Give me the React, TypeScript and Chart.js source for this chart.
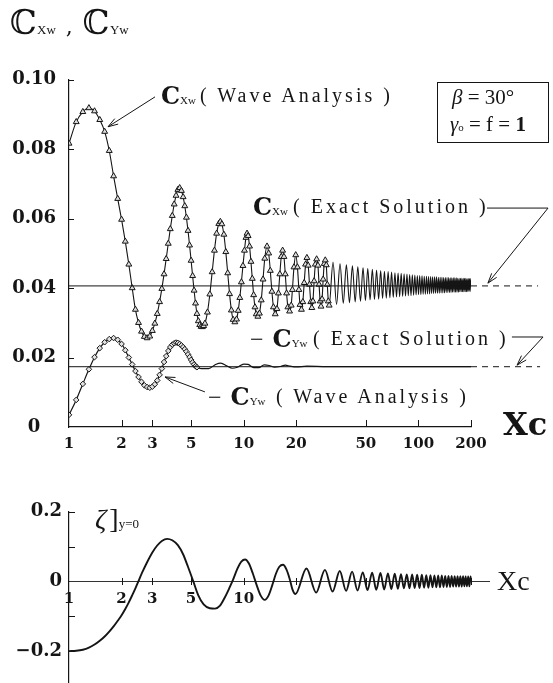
import React, { useEffect, useRef } from "react";
import { Chart, registerables } from "chart.js";
Chart.register(...registerables);

// ---------------- Top chart data ----------------
const topXTicks = [1, 2, 3, 5, 10, 20, 50, 100, 200];
const topYTicks = [0, 0.02, 0.04, 0.06, 0.08, 0.1];

// C_Xw (wave analysis): x and value pairs
const cxWaveX = [
  1.0, 1.1, 1.2, 1.3, 1.4, 1.5, 1.6, 1.7, 1.8, 1.9, 2.0, 2.1, 2.2, 2.3, 2.4, 2.5, 2.6, 2.7, 2.8, 2.9,
  3.0, 3.1, 3.2, 3.3, 3.4, 3.5, 3.6, 3.7, 3.8, 3.9, 4.0, 4.1, 4.2, 4.3, 4.4, 4.5, 4.6, 4.7, 4.8, 4.9,
  5.0, 5.1, 5.2, 5.3, 5.4, 5.5, 5.6, 5.7, 5.8, 5.9, 6.0, 6.2, 6.4, 6.6, 6.8, 7.0, 7.2, 7.35, 7.5, 7.7,
  7.9, 8.1, 8.3, 8.5, 8.7, 8.9, 9.1, 9.3, 9.5, 9.7, 9.9, 10.1, 10.3, 10.45, 10.6, 10.8, 11.0, 11.2, 11.4, 11.6,
  11.8, 12.05, 12.3, 12.6, 12.9, 13.2, 13.6, 13.9, 14.2, 14.5, 14.8, 15.15, 15.5, 15.8, 16.1, 16.4, 16.7, 17.0, 17.3, 17.6,
  17.9, 18.3, 18.7, 19.0, 19.4, 19.85, 20.3, 20.7, 21.0, 21.4, 21.8, 22.2, 22.6, 23.0, 23.4, 23.8, 24.2, 24.55, 24.9, 25.3,
  25.7, 26.15, 26.6, 27.0, 27.4, 27.7, 28.1, 28.5, 28.9, 29.3, 29.7, 30.1, 30.5, 30.85,
  32.45, 34.0, 35.6, 37.15, 38.7, 40.3, 41.9, 43.45, 45.0, 46.6, 48.2, 49.75, 51.3, 52.9, 54.5, 56.05, 57.6, 59.2, 60.8, 62.35,
  63.9, 65.5, 67.1, 68.65, 70.2, 71.8, 73.4, 74.95, 76.5, 78.1, 79.7, 81.25, 82.8, 84.4, 86.0, 87.55, 89.1, 90.7, 92.3, 93.85,
  95.4, 97.0, 98.6, 100.15, 101.7, 103.3, 104.9, 106.45, 108.0, 109.6, 111.2, 112.75, 114.3, 115.9, 117.5, 119.05, 120.6, 122.2, 123.8, 125.35,
  126.9, 128.5, 130.1, 131.65, 133.2, 134.8, 136.4, 137.95, 139.5, 141.1, 142.7, 144.25, 145.8, 147.4, 149.0, 150.55, 152.1, 153.7, 155.3, 156.85,
  158.4, 160.0, 161.6, 163.15, 164.7, 166.3, 167.9, 169.45, 171.0, 172.6, 174.2, 175.75, 177.3, 178.9, 180.5, 182.05, 183.6, 185.2, 186.8, 188.35,
  189.9, 191.5, 193.1, 194.65, 196.2, 197.8, 199.4, 200.0,
];
const cxWaveY = [
  0.0816, 0.0878, 0.0907, 0.0918, 0.0909, 0.0884, 0.085, 0.0795, 0.0722, 0.0657, 0.0597, 0.0534, 0.0468, 0.04, 0.0338, 0.03, 0.0275, 0.026, 0.0256, 0.0261,
  0.0277, 0.0298, 0.0326, 0.036, 0.0398, 0.044, 0.0484, 0.0528, 0.057, 0.0608, 0.0641, 0.0666, 0.0683, 0.0688, 0.068, 0.0662, 0.0636, 0.0603, 0.0565, 0.0523,
  0.0479, 0.0435, 0.0393, 0.0356, 0.0326, 0.0305, 0.0294, 0.0289, 0.0288, 0.0291, 0.0298, 0.033, 0.0382, 0.0446, 0.0508, 0.0557, 0.0585, 0.0591, 0.0584, 0.0554,
  0.0504, 0.0443, 0.0383, 0.0336, 0.0309, 0.0302, 0.031, 0.0335, 0.0372, 0.0417, 0.0464, 0.0508, 0.0545, 0.0557, 0.055, 0.052, 0.0476, 0.0427, 0.038, 0.0345,
  0.0325, 0.0318, 0.0327, 0.0365, 0.0425, 0.0485, 0.052, 0.05, 0.045, 0.039, 0.0345, 0.0325, 0.034, 0.0385, 0.044, 0.049, 0.0508, 0.049, 0.044, 0.0385,
  0.0345, 0.0333, 0.035, 0.0395, 0.046, 0.0495, 0.046, 0.0395, 0.0352, 0.0338, 0.036, 0.0415, 0.0468, 0.0487, 0.0465, 0.041, 0.036, 0.0343, 0.0362, 0.042,
  0.0468, 0.0483, 0.0465, 0.041, 0.0362, 0.0347, 0.0368, 0.0425, 0.047, 0.048, 0.0466, 0.041, 0.0362, 0.035,
  0.0474, 0.0353, 0.047, 0.0356, 0.0467, 0.0358, 0.0464, 0.036, 0.0461, 0.0362, 0.0458, 0.0364, 0.0456, 0.0366, 0.0454, 0.0367, 0.0452, 0.0368, 0.045, 0.037,
  0.0448, 0.0371, 0.0447, 0.0372, 0.0446, 0.0373, 0.0444, 0.0374, 0.0443, 0.0375, 0.0442, 0.0376, 0.0441, 0.0377, 0.044, 0.0378, 0.0439, 0.0378, 0.0438, 0.0379,
  0.0437, 0.038, 0.0436, 0.0381, 0.0436, 0.0381, 0.0435, 0.0382, 0.0434, 0.0382, 0.0434, 0.0383, 0.0433, 0.0383, 0.0433, 0.0384, 0.0432, 0.0384, 0.0432, 0.0385,
  0.0432, 0.0385, 0.0431, 0.0385, 0.0431, 0.0386, 0.0431, 0.0386, 0.043, 0.0386, 0.043, 0.0387, 0.043, 0.0387, 0.043, 0.0387, 0.0429, 0.0387, 0.0429, 0.0388,
  0.0429, 0.0388, 0.0429, 0.0388, 0.0429, 0.0388, 0.0428, 0.0388, 0.0428, 0.0389, 0.0428, 0.0389, 0.0428, 0.0389, 0.0428, 0.0389, 0.0428, 0.0389, 0.0428, 0.0389,
  0.0427, 0.039, 0.0427, 0.039, 0.0427, 0.039, 0.0427, 0.042,
];

// -C_Yw (wave analysis)
const cyWaveX = [
  1.0, 1.1, 1.2, 1.3, 1.4, 1.5, 1.6, 1.7, 1.8, 1.9, 2.0, 2.1, 2.2, 2.3, 2.4, 2.5, 2.6, 2.7, 2.8, 2.9,
  3.0, 3.1, 3.2, 3.3, 3.4, 3.5, 3.6, 3.7, 3.8, 3.9, 4.0, 4.1, 4.2, 4.3, 4.4, 4.5, 4.6, 4.7, 4.8, 4.9,
  5.0, 5.1, 5.2, 5.3, 5.4, 5.7, 6.3, 6.9, 7.4, 8.0, 8.6, 9.2, 10.0, 10.6, 11.4, 12.2, 13.1, 14.0, 15.0, 16.2,
  17.3, 18.5, 20, 23, 30, 200,
];
const cyWaveY = [
  0.0035, 0.0078, 0.0124, 0.0166, 0.0201, 0.0227, 0.0244, 0.0253, 0.0256, 0.0251, 0.0239, 0.0221, 0.02, 0.018, 0.0161, 0.0144, 0.013, 0.012, 0.0115, 0.0113,
  0.0116, 0.0123, 0.0134, 0.015, 0.0168, 0.0187, 0.0204, 0.0219, 0.023, 0.0237, 0.0241, 0.0243, 0.0242, 0.0239, 0.0235, 0.023, 0.0224, 0.0217, 0.0209, 0.0201,
  0.0193, 0.0186, 0.018, 0.0175, 0.0172, 0.0168, 0.0168, 0.018, 0.0184, 0.0176, 0.0169, 0.0172, 0.0181, 0.018, 0.0171, 0.0171, 0.0179, 0.0177, 0.0172, 0.0174,
  0.0178, 0.0175, 0.0173, 0.0175, 0.0174, 0.0174,
];

// exact solutions (horizontal levels)
const cxExact = 0.0406;
const cyExact = 0.01735;
const exactSolidX = [1, 200];
const cxDashX = [200, 484];
const cyDashX = [200, 497];

// arrows of the annotations, in data coordinates (x, value)
const topArrows: number[][][] = [
  [[3.107, 0.095], [1.672, 0.0864]],
  [[6.0, 0.0101], [3.544, 0.0144]],
  [[247, 0.063], [552, 0.063], [250, 0.0414]],
  [[343, 0.0259], [517, 0.0259], [367, 0.0178]],
];

// ---------------- Bottom chart data ----------------
const botXTicks = [1, 2, 3, 5, 10, 20, 50, 100, 200];
const botXLabelled = [1, 2, 3, 5, 10];
const botYTicks = [-0.2, -0.1, 0, 0.1, 0.2];
const botXMax = 254;

const zetaX = [
  1.0, 1.1, 1.2, 1.3, 1.4, 1.5, 1.6, 1.7, 1.8, 1.9, 2.0, 2.1, 2.2, 2.3, 2.4, 2.5, 2.65, 2.8, 3.0, 3.2,
  3.4, 3.65, 3.9, 4.2, 4.5, 4.8, 5.15, 5.5, 5.9, 6.4, 6.85, 7.3, 7.8, 8.3, 8.7, 9.2, 9.7, 10.2, 10.7, 11.3,
  11.9, 12.5, 13.2, 13.9, 14.6, 15.3, 16.0, 16.8, 17.6, 18.4, 19.0, 19.8,
  22.9, 26.0, 29.2, 32.3, 35.5, 38.6, 41.8, 44.9, 48.1, 51.2, 54.4, 57.5, 60.7, 63.8, 67.0, 70.1, 73.3, 76.4,
  79.6, 82.7, 85.9, 89.0, 92.2, 95.3, 98.5, 101.6, 104.8, 107.9, 111.1, 114.2, 117.4, 120.5, 123.7, 126.8, 130.0, 133.1, 136.3, 139.4,
  142.6, 145.7, 148.9, 152.0, 155.2, 158.3, 161.5, 164.6, 167.8, 170.9, 174.1, 177.2, 180.4, 183.5, 186.7, 189.8, 193.0, 196.1, 199.3, 200,
];
const zetaY = [
  -0.2, -0.199, -0.196, -0.19, -0.181, -0.17, -0.158, -0.144, -0.129, -0.113, -0.097, -0.079, -0.06, -0.04, -0.02, 0.001, 0.03, 0.055, 0.083, 0.103,
  0.116, 0.122, 0.118, 0.104, 0.078, 0.042, 0.0, -0.04, -0.066, -0.077, -0.078, -0.07, -0.046, -0.018, 0.005, 0.036, 0.057, 0.063, 0.052, 0.022,
  -0.012, -0.04, -0.053, -0.04, -0.01, 0.022, 0.042, 0.048, 0.034, 0.005, -0.022, -0.036,
  0.037, -0.032, 0.033, -0.029, 0.03, -0.027, 0.028, -0.026, 0.026, -0.025, 0.025, -0.024, 0.024, -0.023, 0.023, -0.022, 0.022, -0.021,
  0.021, -0.02, 0.02, -0.02, 0.02, -0.019, 0.019, -0.019, 0.019, -0.018, 0.018, -0.018, 0.018, -0.017, 0.017, -0.017, 0.017, -0.017, 0.017, -0.016,
  0.016, -0.016, 0.016, -0.016, 0.016, -0.015, 0.015, -0.015, 0.015, -0.015, 0.015, -0.015, 0.015, -0.014, 0.014, -0.014, 0.014, -0.014, 0.014, 0.0,
];

// ---------------- helpers ----------------
const INK = "#151515";
const tickFont = { family: "'DejaVu Serif', serif", weight: "bold" as const, size: 15 };

function pairs(xs: number[], ys: number[]) {
  return xs.map((x, i) => ({ x, y: ys[i] }));
}

function drawArrow(ctx: CanvasRenderingContext2D, pts: number[][]) {
  ctx.beginPath();
  ctx.moveTo(pts[0][0], pts[0][1]);
  for (let i = 1; i < pts.length; i++) ctx.lineTo(pts[i][0], pts[i][1]);
  ctx.stroke();
  const [x1, y1] = pts[pts.length - 2];
  const [x2, y2] = pts[pts.length - 1];
  const a = Math.atan2(y2 - y1, x2 - x1);
  const L = 10, W = 3.2;
  ctx.beginPath();
  ctx.moveTo(x2 - L * Math.cos(a) + W * Math.sin(a), y2 - L * Math.sin(a) - W * Math.cos(a));
  ctx.lineTo(x2, y2);
  ctx.lineTo(x2 - L * Math.cos(a) - W * Math.sin(a), y2 - L * Math.sin(a) + W * Math.cos(a));
  ctx.stroke();
}

const topDecor = {
  id: "topDecor",
  afterDatasetsDraw(chart: any) {
    const { ctx, chartArea } = chart;
    const xs = chart.scales.x, ys = chart.scales.y;
    ctx.save();
    ctx.strokeStyle = INK;
    ctx.lineWidth = 1;
    topXTicks.forEach((v) => {
      if (v === 1) return;
      const px = Math.round(xs.getPixelForValue(v)) + 0.5;
      ctx.beginPath();
      ctx.moveTo(px, chartArea.bottom);
      ctx.lineTo(px, chartArea.bottom - 7);
      ctx.stroke();
    });
    topYTicks.forEach((v) => {
      if (v === 0) return;
      const py = Math.round(ys.getPixelForValue(v)) + 0.5;
      ctx.beginPath();
      ctx.moveTo(chartArea.left, py);
      ctx.lineTo(chartArea.left + 5, py);
      ctx.stroke();
    });
    topArrows.forEach((arr) =>
      drawArrow(ctx, arr.map(([vx, vy]) => [xs.getPixelForValue(vx), ys.getPixelForValue(vy)]))
    );
    ctx.restore();
  },
};

const botDecor = {
  id: "botDecor",
  afterDatasetsDraw(chart: any) {
    const { ctx, chartArea } = chart;
    const xs = chart.scales.x, ys = chart.scales.y;
    const y0 = Math.round(ys.getPixelForValue(0)) + 0.5;
    ctx.save();
    ctx.strokeStyle = INK;
    ctx.lineWidth = 1;
    botXTicks.forEach((v) => {
      if (v === 1) return;
      const px = Math.round(xs.getPixelForValue(v)) + 0.5;
      ctx.beginPath();
      ctx.moveTo(px, y0 - 3.5);
      ctx.lineTo(px, y0 + 3.5);
      ctx.stroke();
    });
    botYTicks.forEach((v) => {
      if (v === 0) return;
      const py = Math.round(ys.getPixelForValue(v)) + 0.5;
      ctx.beginPath();
      ctx.moveTo(chartArea.left, py);
      ctx.lineTo(chartArea.left + 6, py);
      ctx.stroke();
    });
    ctx.restore();
  },
};

function Lbl(props: { x: number; y: number; size: number; children: any; style?: any }) {
  const { x, y, size, children, style } = props;
  return (
    <div
      style={{
        position: "absolute",
        left: x,
        top: y - size * 0.55,
        fontSize: size,
        lineHeight: 1,
        whiteSpace: "nowrap",
        fontFamily: "'Liberation Serif', serif",
        color: INK,
        ...style,
      }}
    >
      {children}
    </div>
  );
}

const CSub = (props: { sub: string; minus?: boolean }) => (
  <span>
    {props.minus ? <span style={{ fontSize: 24, marginRight: 9 }}>−</span> : null}
    <span style={{ fontFamily: "'DejaVu Serif', serif", fontWeight: "bold", fontSize: 24 }}>C</span>
    <span style={{ fontSize: 11 }}>{props.sub}</span>
  </span>
);

export default function App() {
  const topRef = useRef<HTMLCanvasElement>(null);
  const botRef = useRef<HTMLCanvasElement>(null);

  useEffect(() => {
    const lineBase = { pointRadius: 0, borderColor: INK, fill: false };
    const top = new Chart(topRef.current as HTMLCanvasElement, {
      type: "line",
      data: {
        datasets: [
          { ...lineBase, label: "CXw exact", data: exactSolidX.map((x) => ({ x, y: cxExact })), borderWidth: 1 },
          { ...lineBase, label: "CXw exact (ext)", data: cxDashX.map((x) => ({ x, y: cxExact })), borderWidth: 1, borderDash: [6, 5], clip: false },
          { ...lineBase, label: "CYw exact", data: exactSolidX.map((x) => ({ x, y: cyExact })), borderWidth: 1 },
          { ...lineBase, label: "CYw exact (ext)", data: cyDashX.map((x) => ({ x, y: cyExact })), borderWidth: 1, borderDash: [6, 5], clip: false },
          {
            label: "-CYw wave",
            data: pairs(cyWaveX, cyWaveY),
            borderColor: INK,
            borderWidth: 1.2,
            cubicInterpolationMode: "monotone",
            pointStyle: "rectRot",
            pointRadius: (c: any) => (c.raw && c.raw.x <= 5.45 ? 2.8 : 0),
            pointBackgroundColor: "#e0e0e0",
            pointBorderColor: INK,
            pointBorderWidth: 1,
          },
          {
            label: "CXw wave",
            data: pairs(cxWaveX, cxWaveY),
            borderColor: INK,
            borderWidth: 1.1,
            cubicInterpolationMode: "monotone",
            pointStyle: "triangle",
            pointRadius: (c: any) => (c.raw && c.raw.x <= 31 ? 3.4 : 0),
            pointBackgroundColor: "#dcdcdc",
            pointBorderColor: INK,
            pointBorderWidth: 1,
          },
        ] as any,
      },
      options: {
        responsive: false,
        animation: false,
        events: [],
        layout: { padding: { top: 79.5, right: 82, bottom: 0, left: 0 } },
        plugins: { legend: { display: false }, tooltip: { enabled: false } },
        scales: {
          x: {
            type: "logarithmic",
            min: 1,
            max: 200,
            grid: { display: false, drawTicks: false },
            border: { display: true, color: INK, width: 1.2 },
            afterBuildTicks: (s: any) => { s.ticks = topXTicks.map((v) => ({ value: v })); },
            afterFit: (s: any) => { s.height = 43; },
            ticks: { autoSkip: false, maxRotation: 0, padding: 8, color: INK, font: tickFont, callback: (v: any) => String(v) },
          },
          y: {
            min: 0,
            max: 0.1,
            grid: { display: false, drawTicks: false },
            border: { display: true, color: INK, width: 1.2 },
            afterBuildTicks: (s: any) => { s.ticks = topYTicks.map((v) => ({ value: v })); },
            afterFit: (s: any) => { s.width = 69; },
            ticks: {
              padding: 13,
              crossAlign: "center",
              color: INK,
              font: { ...tickFont, size: 18 },
              callback: (v: any) => (Number(v) === 0 ? "0" : Number(v).toFixed(2)),
            },
          },
        } as any,
      },
      plugins: [topDecor],
    });

    const bot = new Chart(botRef.current as HTMLCanvasElement, {
      type: "line",
      data: {
        datasets: [
          {
            label: "zeta y=0",
            data: pairs(zetaX, zetaY),
            borderColor: INK,
            borderWidth: 1.9,
            pointRadius: 0,
            cubicInterpolationMode: "monotone",
          },
        ] as any,
      },
      options: {
        responsive: false,
        animation: false,
        events: [],
        layout: { padding: { top: 41.7, right: 64, bottom: 24, left: 0 } },
        plugins: { legend: { display: false }, tooltip: { enabled: false } },
        scales: {
          x: {
            type: "logarithmic",
            position: { y: 0 },
            min: 1,
            max: botXMax,
            grid: { display: false, drawTicks: false },
            border: { display: true, color: "#333", width: 1 },
            afterBuildTicks: (s: any) => { s.ticks = botXTicks.map((v) => ({ value: v })); },
            ticks: {
              autoSkip: false,
              maxRotation: 0,
              padding: 9,
              color: INK,
              font: tickFont,
              callback: (v: any) => (botXLabelled.includes(Number(v)) ? String(v) : ""),
            },
          },
          y: {
            min: -0.3,
            max: 0.2,
            grid: { display: false, drawTicks: false },
            border: { display: true, color: INK, width: 1.2 },
            afterBuildTicks: (s: any) => { s.ticks = botYTicks.map((v) => ({ value: v })); },
            afterFit: (s: any) => { s.width = 69; },
            ticks: {
              padding: 7,
              color: INK,
              font: { ...tickFont, size: 18 },
              callback: (v: any) => {
                const n = Number(v);
                if (Math.abs(n - 0.2) < 1e-9) return "0.2";
                if (Math.abs(n + 0.2) < 1e-9) return "−0.2";
                if (Math.abs(n) < 1e-9) return "0";
                return "";
              },
            },
          },
        } as any,
      },
      plugins: [botDecor],
    });

    return () => {
      top.destroy();
      bot.destroy();
    };
  }, []);

  return (
    <div style={{ position: "absolute", left: 0, top: 0, width: 553, height: 683, overflow: "hidden", background: "#fff" }}>
      <canvas ref={topRef} width={553} height={470} style={{ position: "absolute", left: 0, top: 0 }} />
      <canvas ref={botRef} width={553} height={240} style={{ position: "absolute", left: 0, top: 470 }} />

      {/* title */}
      <Lbl x={10} y={24} size={34} style={{ fontFamily: "'DejaVu Serif', serif" }}>
        ℂ<span style={{ fontSize: 13, fontFamily: "'Liberation Serif', serif" }}>Xw</span>
        <span style={{ fontSize: 22, margin: "0 10px 0 10px" }}>,</span>ℂ
        <span style={{ fontSize: 13, fontFamily: "'Liberation Serif', serif" }}>Yw</span>
      </Lbl>

      {/* C_Xw wave analysis */}
      <Lbl x={161} y={97} size={24}><CSub sub="Xw" /></Lbl>
      <Lbl x={200} y={96} size={20} style={{ letterSpacing: 3 }}>( Wave Analysis )</Lbl>

      {/* parameters box */}
      <div style={{ position: "absolute", left: 437, top: 82, width: 110, height: 59, border: `1px solid ${INK}` }} />
      <Lbl x={452} y={99} size={21}><i>β</i> = 30°</Lbl>
      <Lbl x={450} y={126} size={21}>
        <i>γ</i><span style={{ fontSize: 11 }}>o</span> = f = <b>1</b>
      </Lbl>

      {/* C_Xw exact */}
      <Lbl x={253} y={208} size={24}><CSub sub="Xw" /></Lbl>
      <Lbl x={293} y={207} size={20} style={{ letterSpacing: 3 }}>( Exact Solution )</Lbl>

      {/* -C_Yw exact */}
      <Lbl x={250} y={340} size={24}><CSub sub="Yw" minus /></Lbl>
      <Lbl x={313} y={339} size={20} style={{ letterSpacing: 3 }}>( Exact Solution )</Lbl>

      {/* -C_Yw wave analysis */}
      <Lbl x={208} y={398} size={24}><CSub sub="Yw" minus /></Lbl>
      <Lbl x={276} y={397} size={20} style={{ letterSpacing: 3 }}>( Wave Analysis )</Lbl>

      {/* axis titles */}
      <Lbl x={503} y={426} size={32} style={{ fontFamily: "'DejaVu Serif', serif", fontWeight: "bold" }}>Xc</Lbl>
      <Lbl x={497} y={582} size={28}>Xc</Lbl>

      {/* zeta label */}
      <Lbl x={95} y={520} size={28} style={{ fontStyle: "italic" }}>
        ζ<span style={{ fontStyle: "normal", fontSize: 28, marginLeft: 3 }}>]</span>
        <span style={{ fontStyle: "normal", fontSize: 13 }}>y=0</span>
      </Lbl>
    </div>
  );
}
